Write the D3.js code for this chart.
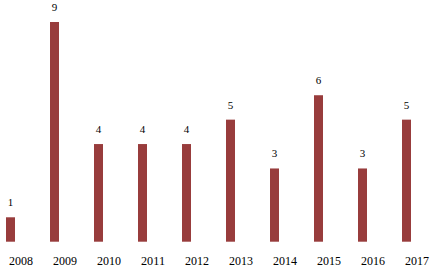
<!DOCTYPE html>
<html>
<head>
<meta charset="utf-8">
<script src="https://cdn.jsdelivr.net/npm/d3@7"></script>
<style>
  html, body { margin: 0; padding: 0; background: #fff; }
  svg text { font-family: 'Liberation Serif', Tinos, Times, serif; fill: #000; }
</style>
</head>
<body>
<svg id="chart" width="443" height="268"></svg>
<script>
// Data
const years = ['2008', '2009', '2010', '2011', '2012', '2013', '2014', '2015', '2016', '2017'];
const counts = [1, 9, 4, 4, 4, 5, 3, 6, 3, 5];

const svg = d3.select('#chart');
const data = years.map((y, i) => ({ year: y, value: counts[i] }));

// Scales
const xScale = d3.scaleBand().domain(years).range([-1, 439]);
// bar sits in the left half of each category (second slot is empty, like the source)
const xSub = d3.scaleBand().domain(['count', 'blank']).range([0, xScale.bandwidth()]);
const yScale = d3.scaleLinear().domain([0, 9]).range([241.7, 22]);

const barWidth = 9;

// Bars
svg.append('g').attr('class', 'bars')
    .selectAll('rect')
    .data(data)
    .join('rect')
    .attr('x', d => xScale(d.year) + xSub('count') + xSub.bandwidth() / 2 - barWidth / 2 + 0.5)
    .attr('y', d => yScale(d.value))
    .attr('width', barWidth)
    .attr('height', d => yScale(0) - yScale(d.value))
    .attr('fill', '#983c3c');

// Value labels
svg.append('g').attr('class', 'labels')
    .selectAll('text')
    .data(data)
    .join('text')
    .attr('x', d => xScale(d.year) + xSub('count') + xSub.bandwidth() / 2 + 0.5)
    .attr('y', d => yScale(d.value) - 11)
    .attr('text-anchor', 'middle')
    .attr('font-size', 11)
    .text(d => d.value);

// Category axis (no line, no ticks)
const xAxis = svg.append('g')
    .attr('transform', `translate(0,${yScale(0)})`)
    .call(d3.axisBottom(xScale).tickSize(0).tickPadding(0));
xAxis.attr('font-family', null);
xAxis.select('.domain').remove();
xAxis.selectAll('text')
    .attr('dy', null)
    .attr('y', 23.5)
    .attr('font-size', 13.5)
    .attr('textLength', 24)
    .attr('lengthAdjust', 'spacingAndGlyphs')
    .attr('fill', '#000');
</script>
</body>
</html>
